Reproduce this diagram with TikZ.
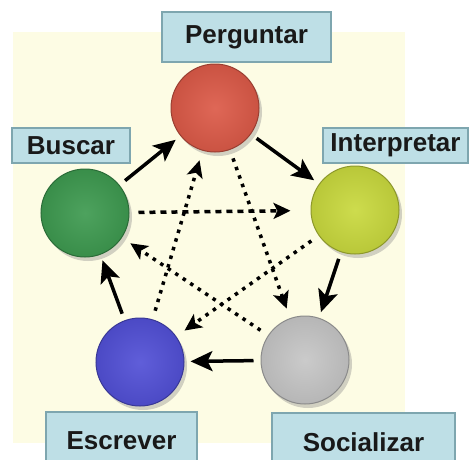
\documentclass[tikz,border=0pt]{standalone}
\usepackage{fontspec}
\setmainfont{Liberation Sans}
\usetikzlibrary{arrows.meta,shadows}
\definecolor{cream}{HTML}{FDFCE4}
\definecolor{boxfill}{HTML}{BEDFE6}
\definecolor{boxline}{HTML}{7EA6AF}
\definecolor{cRed}{HTML}{DC5A48}
\definecolor{cGreen}{HTML}{3E9A50}
\definecolor{cLime}{HTML}{C9D93E}
\definecolor{cBlue}{HTML}{5250D6}
\definecolor{cGray}{HTML}{C6C6C6}
\tikzset{
ball/.style={circle,minimum size=88pt,inner sep=0pt,draw=#1!70!black,line width=1pt,
  inner color=#1!92!white,outer color=#1!92!black,
  drop shadow={shadow xshift=3pt,shadow yshift=-4pt,opacity=0.35}},
lbl/.style={draw=boxline,fill=boxfill,line width=1.5pt,inner sep=0pt,
  font=\fontsize{26}{30}\selectfont\bfseries,text=black!90},
cycarrow/.style={line width=3.5pt,-{Stealth[length=22pt,width=20pt,inset=5pt]},shorten <=7pt,shorten >=6pt},
stararrow/.style={line width=3.5pt,dash pattern=on 3.5pt off 5.5pt,-{Stealth[length=17pt,width=16pt,inset=4pt]},shorten <=9pt,shorten >=10pt}
}
\begin{document}
\begin{tikzpicture}[x=1pt,y=-1pt]
\clip(0,0)rectangle(472,459);
\fill[cream](13,32)rectangle(405,443);
%
\node[ball=cRed](perg)at(215,108){};
\node[ball=cGreen](busc)at(85,213){};
\node[ball=cLime](interp)at(355,210){};
\node[ball=cBlue](escr)at(140,362){};
\node[ball=cGray](soc)at(305,360){};
%
\node[lbl,minimum width=169pt,minimum height=50pt](tPerg)at(246.5,37){Perguntar};
\node[lbl,minimum width=118pt,minimum height=35pt](tBusc)at(71,145.5){Buscar};
\node[lbl,minimum width=145pt,minimum height=35pt](tInterp)at(395.5,145.5){Interpretar};
\node[lbl,minimum width=151pt,minimum height=58pt](tEscr)at(121.5,441){Escrever};
\node[lbl,minimum width=183pt,minimum height=58pt](tSoc)at(363.5,442){Socializar};
%
\draw[cycarrow](busc)--(perg);
\draw[cycarrow](perg)--(interp);
\draw[cycarrow](interp)--(soc);
\draw[cycarrow](soc)--(escr);
\draw[cycarrow](escr)--(busc);
%
\draw[stararrow,dash pattern=on 6pt off 5pt,shorten >=20pt](busc)--(interp);
\draw[stararrow](perg)--(soc);
\draw[stararrow](interp)--(escr);
\draw[stararrow](soc)--(busc);
\draw[stararrow](escr)--(perg);
\end{tikzpicture}
\end{document}
